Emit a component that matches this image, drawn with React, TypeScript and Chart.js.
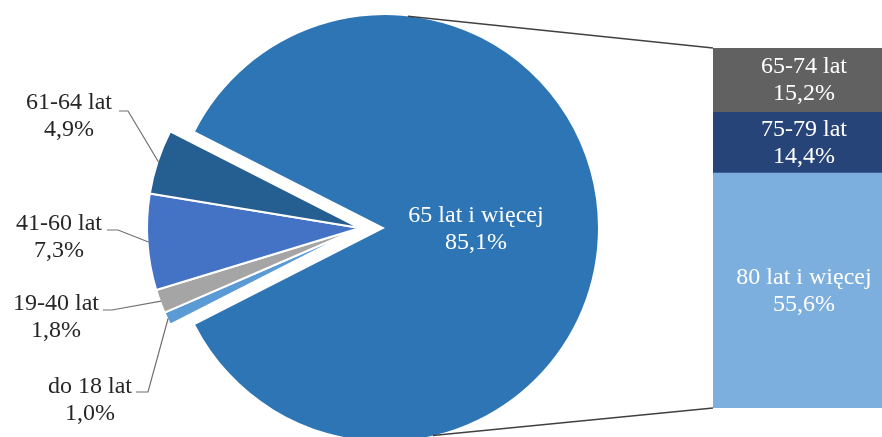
import React, { useEffect, useRef } from 'react';
import { Chart, registerables } from 'chart.js';

Chart.register(...registerables);

// ---- data ----
const pieLabels = ['do 18 lat', '19-40 lat', '41-60 lat', '61-64 lat', '65 lat i więcej'];
const pieValues = [1.0, 1.8, 7.3, 4.9, 85.1];
const pieColors = ['#5B9BD5', '#A5A5A5', '#4472C4', '#255E91', '#2E75B6'];

const barLabels = ['80 lat i więcej', '75-79 lat', '65-74 lat'];
const barValues = [55.6, 14.4, 15.2];
const barColors = ['#7CAFDD', '#264478', '#616161'];

// ---- layout ----
const W = 882;
const H = 437;
const RADIUS = 213;
const ROTATION = 243;
const BAR_LEFT = 713;
const BAR_TOP = 48;
const BAR_W = 182;
const BAR_H = 360;
const FONT = '24px "Liberation Serif", "Times New Roman", serif';

// label layout for the small (exploded) slices: text centre x, first baseline, leader elbow
const smallLabelLayout = [
  { cx: 90, by: 393, elbow: [[136, 392], [148, 392]] },
  { cx: 56, by: 310, elbow: [[103, 310], [112, 310]] },
  { cx: 59, by: 230, elbow: [[107, 230], [118, 230]] },
  { cx: 69, by: 109, elbow: [[119, 111], [128, 111]] },
];

const fmt = (v: number) => v.toFixed(1).replace('.', ',') + '%';

const bigPlugin = {
  id: 'bigPlugin',
  afterDraw(chart: any) {
    const ctx = chart.ctx;
    const arc = chart.getDatasetMeta(0).data[4];
    if (!arc) return;
    const { x, y, outerRadius } = arc.getProps(['x', 'y', 'outerRadius'], true);
    const a1 = (-83.8 * Math.PI) / 180;
    const a2 = (77 * Math.PI) / 180;
    ctx.save();
    ctx.strokeStyle = '#404040';
    ctx.lineWidth = 1.4;
    ctx.beginPath();
    ctx.moveTo(x + outerRadius * Math.cos(a1), y + outerRadius * Math.sin(a1));
    ctx.lineTo(BAR_LEFT, BAR_TOP);
    ctx.moveTo(x + outerRadius * Math.cos(a2), y + outerRadius * Math.sin(a2));
    ctx.lineTo(BAR_LEFT, BAR_TOP + BAR_H);
    ctx.stroke();
    ctx.fillStyle = '#FFFFFF';
    ctx.font = FONT;
    ctx.textAlign = 'center';
    ctx.textBaseline = 'alphabetic';
    ctx.fillText(pieLabels[4], x + 91, y - 6);
    ctx.fillText(fmt(pieValues[4]), x + 91, y + 21);
    ctx.restore();
  },
};

const smallPlugin = {
  id: 'smallPlugin',
  afterDraw(chart: any) {
    const ctx = chart.ctx;
    const meta = chart.getDatasetMeta(0);
    ctx.save();
    smallLabelLayout.forEach((lay, i) => {
      const arc = meta.data[i];
      if (!arc) return;
      const { x, y, startAngle, endAngle, outerRadius } = arc.getProps(
        ['x', 'y', 'startAngle', 'endAngle', 'outerRadius'],
        true
      );
      const mid = (startAngle + endAngle) / 2;
      const px = x + (outerRadius - 1) * Math.cos(mid);
      const py = y + (outerRadius - 1) * Math.sin(mid);
      ctx.strokeStyle = '#707070';
      ctx.lineWidth = 1.2;
      ctx.beginPath();
      ctx.moveTo(lay.elbow[0][0], lay.elbow[0][1]);
      ctx.lineTo(lay.elbow[1][0], lay.elbow[1][1]);
      ctx.lineTo(px, py);
      ctx.stroke();
      ctx.fillStyle = '#262626';
      ctx.font = FONT;
      ctx.textAlign = 'center';
      ctx.textBaseline = 'alphabetic';
      ctx.fillText(pieLabels[i], lay.cx, lay.by);
      ctx.fillText(fmt(pieValues[i]), lay.cx, lay.by + 27);
    });
    ctx.restore();
  },
};

const barLabelPlugin = {
  id: 'barLabelPlugin',
  afterDatasetsDraw(chart: any) {
    const ctx = chart.ctx;
    ctx.save();
    ctx.fillStyle = '#FFFFFF';
    ctx.font = FONT;
    ctx.textAlign = 'center';
    ctx.textBaseline = 'middle';
    chart.data.datasets.forEach((ds: any, i: number) => {
      const el = chart.getDatasetMeta(i).data[0];
      if (!el) return;
      const { x, y, base } = el.getProps(['x', 'y', 'base'], true);
      const cy = (y + base) / 2;
      ctx.fillText(barLabels[i], x, cy - 13);
      ctx.fillText(fmt(barValues[i]), x, cy + 14);
    });
    ctx.restore();
  },
};

export default function App() {
  const bigRef = useRef<HTMLCanvasElement>(null);
  const smallRef = useRef<HTMLCanvasElement>(null);
  const barRef = useRef<HTMLCanvasElement>(null);

  useEffect(() => {
    const common = {
      responsive: false,
      animation: false as const,
      events: [] as any[],
      rotation: ROTATION,
      radius: RADIUS,
      plugins: { legend: { display: false }, tooltip: { enabled: false } },
    };

    const big = new Chart(bigRef.current as HTMLCanvasElement, {
      type: 'pie',
      data: {
        labels: pieLabels,
        datasets: [
          {
            data: pieValues,
            backgroundColor: pieColors.map((c, i) => (i === 4 ? c : 'rgba(0,0,0,0)')),
            borderWidth: 0,
            radius: RADIUS,
          } as any,
        ],
      },
      options: {
        ...common,
        layout: { padding: { left: 0, right: W - 2 * 385, top: 2 * 228 - H, bottom: 0 } },
      } as any,
      plugins: [bigPlugin],
    });

    const small = new Chart(smallRef.current as HTMLCanvasElement, {
      type: 'pie',
      data: {
        labels: pieLabels,
        datasets: [
          {
            data: pieValues,
            backgroundColor: pieColors.map((c, i) => (i === 4 ? 'rgba(0,0,0,0)' : c)),
            borderColor: '#FFFFFF',
            borderWidth: pieValues.map((_, i) => (i === 4 ? 0 : 2)),
            radius: RADIUS,
          } as any,
        ],
      },
      options: {
        ...common,
        layout: { padding: { left: 0, right: W - 2 * 360, top: 2 * 228 - H, bottom: 0 } },
      } as any,
      plugins: [smallPlugin],
    });

    const total = barValues.reduce((a, b) => a + b, 0);
    const bar = new Chart(barRef.current as HTMLCanvasElement, {
      type: 'bar',
      data: {
        labels: [''],
        datasets: barValues.map((v, i) => ({
          label: barLabels[i],
          data: [v],
          backgroundColor: barColors[i],
          borderWidth: 0,
          barPercentage: 1,
          categoryPercentage: 1,
        })),
      },
      options: {
        responsive: false,
        animation: false,
        events: [],
        layout: { padding: 0 },
        scales: {
          x: { display: false, stacked: true },
          y: { display: false, stacked: true, min: 0, max: total },
        },
        plugins: { legend: { display: false }, tooltip: { enabled: false } },
      } as any,
      plugins: [barLabelPlugin],
    });

    return () => {
      big.destroy();
      small.destroy();
      bar.destroy();
    };
  }, []);

  return (
    <div
      style={{
        position: 'absolute',
        left: 0,
        top: 0,
        width: W,
        height: H,
        overflow: 'hidden',
        background: '#FFFFFF',
      }}
    >
      <canvas ref={bigRef} width={W} height={H} style={{ position: 'absolute', left: 0, top: 0 }} />
      <canvas
        ref={barRef}
        width={BAR_W}
        height={BAR_H}
        style={{ position: 'absolute', left: BAR_LEFT, top: BAR_TOP }}
      />
      <canvas ref={smallRef} width={W} height={H} style={{ position: 'absolute', left: 0, top: 0 }} />
    </div>
  );
}
